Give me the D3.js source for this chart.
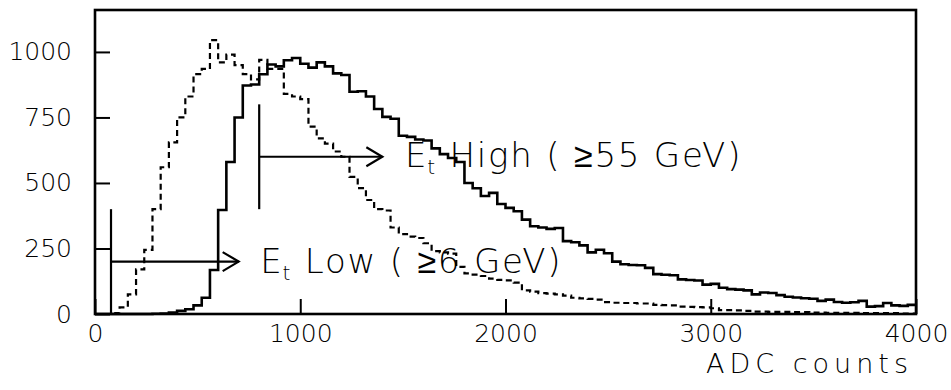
<!DOCTYPE html>
<html>
<head>
<meta charset="utf-8">
<script src="https://cdn.jsdelivr.net/npm/d3@7"></script>
<style>
  html, body { margin: 0; padding: 0; background: #fff; }
  svg { display: block; }
  text { font-family: "DejaVu Sans", "Liberation Sans", sans-serif; font-weight: 200; fill: #000; }
</style>
</head>
<body>
<svg id="chart" width="951" height="390"></svg>
<script>
// ---- data ----
const binWidth = 40; // ADC counts per bin, 100 bins from 0 to 4000
const highCounts = [
  0,0,0,0,0,0,0,1,2,6,
  12,18,33,62,168,397,580,750,872,876,
  915,952,945,968,977,955,940,960,945,918,
  912,848,850,830,782,752,745,680,676,666,
  662,632,610,595,580,500,480,450,462,420,
  405,392,360,335,330,325,328,278,274,262,
  235,245,232,200,190,187,186,176,152,150,
  148,132,130,128,112,115,100,95,93,90,
  75,82,80,72,66,63,60,58,50,55,
  46,43,45,50,28,30,42,33,31,35
];
const lowCounts = [
  0,0,3,25,75,170,245,400,560,655,
  750,830,915,935,1045,960,990,950,915,895,
  970,935,935,840,830,820,715,670,650,620,
  600,523,480,435,400,395,330,305,295,290,
  270,240,235,230,180,155,150,145,135,130,
  128,120,90,85,80,78,75,70,62,60,
  58,55,45,43,42,42,40,40,35,34,
  33,28,27,26,25,22,15,15,14,12,
  9,9,8,8,8,7,7,5,5,4,
  4,4,4,3,3,3,3,3,2,2
];
const xTickValues = [0, 1000, 2000, 3000, 4000];
const yTickValues = [0, 250, 500, 750, 1000];
const xDomain = [0, 4000];
const yDomain = [0, 1160];
const lowMarker  = { x: 78,  y0: 0,   y1: 400, arrowY: 200, tip: 700 };
const highMarker = { x: 800, y0: 400, y1: 800, arrowY: 600, tip: 1400 };
const xTitle = "ADC counts";

// ---- layout ----
const svg = d3.select("#chart");
const mLeft = 95, mRight = 916, mTop = 10, mBottom = 314;
const x = d3.scaleLinear().domain(xDomain).range([mLeft, mRight]);
const y = d3.scaleLinear().domain(yDomain).range([mBottom, mTop]);

function stepPath(counts) {
  const p = d3.path();
  p.moveTo(x(0), y(0));
  counts.forEach((c, i) => {
    p.lineTo(x(i * binWidth), y(c));
    p.lineTo(x((i + 1) * binWidth), y(c));
  });
  return p.toString();
}

const plot = svg.append("g");
plot.append("path")
  .attr("d", stepPath(lowCounts))
  .attr("fill", "none").attr("stroke", "#000")
  .attr("stroke-width", 2.2).attr("stroke-dasharray", "6,4");
plot.append("path")
  .attr("d", stepPath(highCounts))
  .attr("fill", "none").attr("stroke", "#000")
  .attr("stroke-width", 2.6).attr("stroke-linejoin", "miter");

function marker(m) {
  const g = svg.append("g").attr("stroke", "#000").attr("fill", "none").attr("stroke-width", 2.2);
  g.append("line").attr("x1", x(m.x)).attr("x2", x(m.x)).attr("y1", y(m.y0)).attr("y2", y(m.y1));
  g.append("line").attr("x1", x(m.x)).attr("x2", x(m.tip)).attr("y1", y(m.arrowY)).attr("y2", y(m.arrowY));
  const tx = x(m.tip), ty = y(m.arrowY);
  g.append("path").attr("d", `M${tx - 16},${ty - 9.5}L${tx},${ty}L${tx - 16},${ty + 9.5}`);
}
marker(lowMarker);
marker(highMarker);

function label(xp, yp, rest) {
  const t = svg.append("text").attr("x", xp).attr("y", yp).attr("font-size", 34).attr("letter-spacing", 1.8);
  t.append("tspan").text("E");
  t.append("tspan").attr("font-size", 20).attr("dy", 7).attr("dx", -1).text("t");
  t.append("tspan").attr("dy", -7).text(rest);
}
label(x(1510), 167, " High ( \u226555 GeV)");
label(x(805), 273, " Low ( \u22656 GeV)");

const fmt = d3.format("d");
const yAxis = d3.axisLeft(y).tickValues(yTickValues).tickFormat(fmt).tickSizeInner(-15).tickSizeOuter(0).tickPadding(23);
const gy = svg.append("g").attr("transform", `translate(${mLeft},0)`).call(yAxis);
const xAxis = d3.axisBottom(x).tickValues(xTickValues).tickFormat(fmt).tickSizeInner(-15).tickSizeOuter(0).tickPadding(10);
const gx = svg.append("g").attr("transform", `translate(0,${mBottom})`).call(xAxis);
[gx, gy].forEach(g => {
  g.select(".domain").remove();
  g.selectAll(".tick line").attr("stroke", "#000").attr("stroke-width", 2);
  g.selectAll(".tick text").attr("font-size", 25).attr("font-family", "DejaVu Sans, Liberation Sans, sans-serif").attr("font-weight", 200).attr("fill", "#000");
});
gx.selectAll(".tick text").attr("dy", "0.72em");

svg.append("rect").attr("x", mLeft).attr("y", mTop).attr("width", mRight - mLeft).attr("height", mBottom - mTop)
  .attr("fill", "none").attr("stroke", "#000").attr("stroke-width", 2.6);

svg.append("text").attr("x", 913).attr("y", 373).attr("text-anchor", "end").attr("font-size", 27)
  .attr("letter-spacing", 5).text(xTitle);
</script>
</body>
</html>
